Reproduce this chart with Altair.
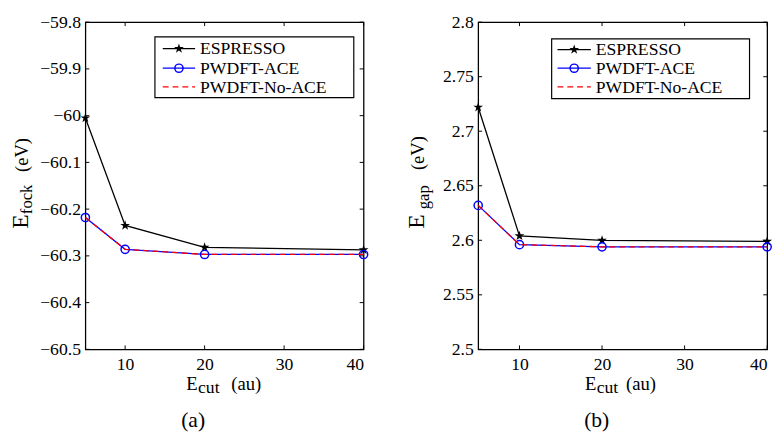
import altair as alt
import pandas as pd

# ---------------- data ----------------
ecut = [5, 10, 20, 40]
series = ["ESPRESSO", "PWDFT-ACE", "PWDFT-No-ACE"]

fock_espresso = [-60.005, -60.235, -60.282, -60.287]
fock_ace = [-60.218, -60.286, -60.297, -60.297]
fock_noace = [-60.218, -60.286, -60.297, -60.297]

gap_espresso = [2.722, 2.604, 2.600, 2.599]
gap_ace = [2.632, 2.596, 2.594, 2.594]
gap_noace = [2.632, 2.596, 2.594, 2.594]

x_ticks = [10, 20, 30, 40]
fock_ticks = [-60.5, -60.4, -60.3, -60.2, -60.1, -60.0, -59.9, -59.8]
gap_ticks = [2.5, 2.55, 2.6, 2.65, 2.7, 2.75, 2.8]

FONT = "Liberation Serif, Times New Roman, serif"
COLORS = {"ESPRESSO": "black", "PWDFT-ACE": "#0000ff", "PWDFT-No-ACE": "#ff0000"}
STAR = ("M0,-1L0.2245,-0.309L0.9511,-0.309L0.3633,0.118L0.5878,0.809L0,0.382"
        "L-0.5878,0.809L-0.3633,0.118L-0.9511,-0.309L-0.2245,-0.309Z")
H = 334
LW = 1.3


def long_df(vals):
    rows = []
    for name, v in zip(series, vals):
        for x, y in zip(ecut, v):
            rows.append({"Ecut": x, "E": y, "series": name})
    return pd.DataFrame(rows)


def one():
    return pd.DataFrame({"k": [0]})


def txt(s, x, y, size, angle=0, align="left", baseline="alphabetic"):
    kw = dict(text=s, fontSize=size, font=FONT, align=align, baseline=baseline, color="black")
    if angle:
        kw["angle"] = angle
    return alt.Chart(one()).mark_text(**kw).encode(x=alt.value(x), y=alt.value(y))


def panel(vals, ydom, yticks, yfmt, W, lg, ytitle, xtitle, caption):
    df = long_df(vals)
    xs = alt.Scale(domain=[5, 40], nice=False, zero=False)
    ys = alt.Scale(domain=ydom, nice=False, zero=False)
    xax = alt.Axis(values=x_ticks, format="d", ticks=False, domain=False, grid=False,
                   labelFont=FONT, labelFontSize=18, labelColor="black",
                   labelPadding=7, title=None)
    yax = alt.Axis(values=yticks, format=yfmt, ticks=False, domain=False, grid=False,
                   labelFont=FONT, labelFontSize=18, labelColor="black",
                   labelPadding=5, title=None)
    X = alt.X("Ecut:Q", scale=xs, axis=xax)
    Y = alt.Y("E:Q", scale=ys, axis=yax)

    base = alt.Chart(df)
    esp = base.transform_filter(alt.datum.series == "ESPRESSO")
    ace = base.transform_filter(alt.datum.series == "PWDFT-ACE")
    noace = base.transform_filter(alt.datum.series == "PWDFT-No-ACE")

    layers = [
        esp.mark_line(color="black", strokeWidth=LW).encode(x=X, y=Y),
        esp.mark_point(shape=STAR, filled=True, color="black", size=110, opacity=1).encode(x=X, y=Y),
        ace.mark_line(color=COLORS["PWDFT-ACE"], strokeWidth=LW).encode(x=X, y=Y),
        ace.mark_point(shape="circle", filled=False, color=COLORS["PWDFT-ACE"], size=70,
                       strokeWidth=1.5, opacity=1).encode(x=X, y=Y),
        noace.mark_line(color=COLORS["PWDFT-No-ACE"], strokeWidth=LW, strokeDash=[6, 4]).encode(x=X, y=Y),
    ]

    # inward ticks on all four sides
    ytk = alt.Chart(pd.DataFrame({"E": yticks}))
    xtk = alt.Chart(pd.DataFrame({"Ecut": x_ticks}))
    layers += [
        ytk.mark_rule(color="black", strokeWidth=1).encode(y=Y, x=alt.value(0), x2=alt.value(4)),
        ytk.mark_rule(color="black", strokeWidth=1).encode(y=Y, x=alt.value(W - 4), x2=alt.value(W)),
        xtk.mark_rule(color="black", strokeWidth=1).encode(x=X, y=alt.value(H), y2=alt.value(H - 4)),
        xtk.mark_rule(color="black", strokeWidth=1).encode(x=X, y=alt.value(0), y2=alt.value(4)),
    ]

    # legend box
    bx0, by0, bx1, by1, rows, l0, l1, tx = lg
    layers.append(alt.Chart(one()).mark_rect(fill="white", stroke="black", strokeWidth=1.2).encode(
        x=alt.value(bx0), x2=alt.value(bx1), y=alt.value(by0), y2=alt.value(by1)))
    for i, name in enumerate(series):
        kw = dict(color=COLORS[name], strokeWidth=LW)
        if name == "PWDFT-No-ACE":
            kw["strokeDash"] = [6, 4]
        layers.append(alt.Chart(one()).mark_rule(**kw).encode(
            x=alt.value(l0), x2=alt.value(l1), y=alt.value(rows[i])))
        if name == "ESPRESSO":
            layers.append(alt.Chart(one()).mark_point(shape=STAR, filled=True, color="black",
                                                      size=110, opacity=1).encode(
                x=alt.value((l0 + l1) / 2), y=alt.value(rows[i])))
        if name == "PWDFT-ACE":
            layers.append(alt.Chart(one()).mark_point(shape="circle", filled=False,
                                                      color=COLORS[name], size=70,
                                                      strokeWidth=1.5, opacity=1).encode(
                x=alt.value((l0 + l1) / 2), y=alt.value(rows[i])))
        layers.append(txt(name, tx, rows[i] + 6, 18))

    # y title (rotated, with subscript)
    (e_y, e_x), (s_txt, s_y, s_x), (u_y, u_x) = ytitle
    cy = H / 2
    layers += [
        txt("E", e_x, cy + e_y, 24, angle=270),
        txt(s_txt, s_x, cy + s_y, 17, angle=270),
        txt("(eV)", u_x, cy + u_y, 19, angle=270),
    ]
    # x title with subscript
    ex, sx, ux = xtitle
    layers += [
        txt("E", ex, H + 41, 19),
        txt("cut", sx, H + 45, 18),
        txt("(au)", ux, H + 41, 19),
    ]
    cap, capx = caption
    layers.append(txt(cap, capx, H + 79, 22, align="center"))

    return alt.layer(*layers).properties(width=W, height=H)


left = panel(
    [fock_espresso, fock_ace, fock_noace], [-60.5, -59.8], fock_ticks, ".1~f", 284,
    (71, 15, 274, 77, [27, 47, 66], 79, 112, 117),
    ((44, -59), ("fock", 29, -54), (-14, -59)),
    (103, 115, 149),
    ("(a)", 110),
)
right = panel(
    [gap_espresso, gap_ace, gap_noace], [2.5, 2.8], gap_ticks, ".2~f", 295,
    (75, 17, 277, 78, [28, 47, 66], 81, 115, 120),
    ((44, -55), ("gap", 24, -50), (-16, -55)),
    (109, 121, 151),
    ("(b)", 121),
)

chart = alt.hconcat(left, right, spacing=34).properties(padding=0).configure_view(
    stroke="black", strokeWidth=1.3
)

chart.save("out.html", embed_options={"renderer": "svg", "actions": False})
